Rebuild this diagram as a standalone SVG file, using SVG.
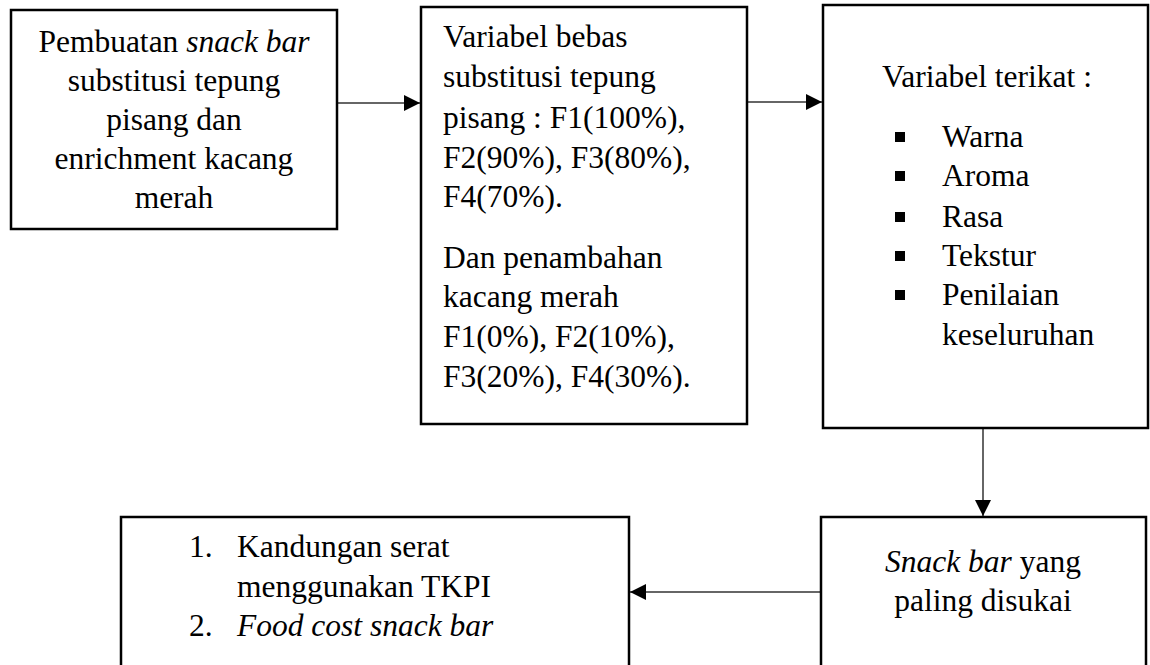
<svg xmlns="http://www.w3.org/2000/svg" width="1150" height="665" viewBox="0 0 1150 665">
<style>
.box{fill:#fff;stroke:#000;stroke-width:2.5}
.t{font-family:"Liberation Serif","Times New Roman",serif;font-size:31.5px;fill:#000}
.c{text-anchor:middle}
.i{font-style:italic}
.conn{stroke:#333;stroke-width:1.5;fill:none}
</style>
<defs>
<marker id="ah" markerUnits="userSpaceOnUse" markerWidth="16" markerHeight="16" viewBox="0 0 16 16" refX="16" refY="8" orient="auto">
<path d="M0,0 L16,8 L0,16 Z" fill="#000"/>
</marker>
</defs>
<rect width="1150" height="665" fill="#fff"/>
<g id="connectors">
<line class="conn" x1="338" y1="103" x2="420" y2="103" marker-end="url(#ah)"/>
<line class="conn" x1="748" y1="102" x2="822" y2="102" marker-end="url(#ah)"/>
<line class="conn" x1="983" y1="429" x2="983" y2="516" marker-end="url(#ah)"/>
<line class="conn" x1="820" y1="592" x2="630" y2="592" marker-end="url(#ah)"/>
</g>
<g id="node1">
<rect class="box" x="11" y="10" width="326" height="219"/>
<text class="t c" x="174" y="52">Pembuatan <tspan class="i">snack bar</tspan></text>
<text class="t c" x="174" y="91">substitusi tepung</text>
<text class="t c" x="174" y="130">pisang dan</text>
<text class="t c" x="174" y="169">enrichment kacang</text>
<text class="t c" x="174" y="208">merah</text>
</g>
<g id="node2">
<rect class="box" x="421" y="7" width="326" height="417"/>
<text class="t" x="443" y="47">Variabel bebas</text>
<text class="t" x="443" y="87">substitusi tepung</text>
<text class="t" x="443" y="128">pisang : F1(100%),</text>
<text class="t" x="443" y="168">F2(90%), F3(80%),</text>
<text class="t" x="443" y="207">F4(70%).</text>
<text class="t" x="443" y="268">Dan penambahan</text>
<text class="t" x="443" y="307">kacang merah</text>
<text class="t" x="443" y="347">F1(0%), F2(10%),</text>
<text class="t" x="443" y="387">F3(20%), F4(30%).</text>
</g>
<g id="node3">
<rect class="box" x="823" y="5" width="325" height="423"/>
<text class="t" x="882" y="87">Variabel terikat :</text>
<g fill="#000">
<rect x="895" y="132" width="10" height="10"/>
<rect x="895" y="171" width="10" height="10"/>
<rect x="895" y="212" width="10" height="10"/>
<rect x="895" y="251" width="10" height="10"/>
<rect x="895" y="290" width="10" height="10"/>
</g>
<text class="t" x="942" y="147">Warna</text>
<text class="t" x="942" y="186">Aroma</text>
<text class="t" x="942" y="227">Rasa</text>
<text class="t" x="942" y="266">Tekstur</text>
<text class="t" x="942" y="305">Penilaian</text>
<text class="t" x="942" y="345">keseluruhan</text>
</g>
<g id="node4">
<rect class="box" x="121" y="517" width="508" height="170"/>
<text class="t" x="189" y="557">1.</text>
<text class="t" x="237" y="557">Kandungan serat</text>
<text class="t" x="237" y="597">menggunakan TKPI</text>
<text class="t" x="189" y="636">2.</text>
<text class="t i" x="237" y="636">Food cost snack bar</text>
</g>
<g id="node5">
<rect class="box" x="821" y="517" width="325" height="170"/>
<text class="t c" x="983" y="572"><tspan class="i">Snack bar</tspan> yang</text>
<text class="t c" x="983" y="611">paling disukai</text>
</g>
</svg>
